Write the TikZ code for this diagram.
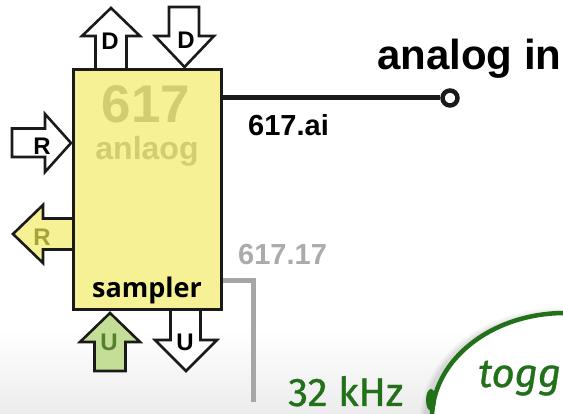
\documentclass[tikz,border=0pt]{standalone}
\usepackage{fontspec}
\setmainfont{Liberation Sans}
\newfontfamily\samplerfont{Open Sans}
\newfontfamily\comicfont[FakeBold=0.8]{Fira Sans}
\definecolor{boxyellow}{HTML}{F7F196}
\definecolor{ghost}{HTML}{D3CC70}
\definecolor{olivetext}{HTML}{A3A33A}
\definecolor{leaf}{HTML}{C4DE98}
\definecolor{leafdark}{HTML}{557F2A}
\definecolor{wire}{HTML}{1A1A1A}
\definecolor{graywire}{HTML}{A6A6A6}
\definecolor{graytext}{HTML}{ABABAB}
\definecolor{note}{HTML}{23701A}
\definecolor{bggray}{HTML}{ECECEC}
\begin{document}
\begin{tikzpicture}[x=1pt,y=-1pt,
  blockarrow/.style={draw=wire, line width=2.6pt, line join=miter, fill=white},
  arrowlbl/.style={font=\fontsize{24}{24}\selectfont\bfseries, inner sep=0pt},
  blocktitle/.style={font=\fontsize{53}{53}\selectfont\bfseries, text=ghost, inner sep=0pt, anchor=base},
  blocksub/.style={font=\fontsize{32}{32}\selectfont\bfseries, text=ghost, inner sep=0pt, anchor=base},
  signal/.style={font=\fontsize{29}{29}\selectfont\bfseries, inner sep=0pt, anchor=base west},
  notetext/.style={font=\comicfont\fontsize{40}{40}\selectfont, text=note, inner sep=0pt, anchor=base west}]
\useasboundingbox (0,0) rectangle (563,414);
\begin{scope}
\clip (0,0) rectangle (563,414);
% background gradient
\shade[top color=white, bottom color=bggray] (0,330) rectangle (563,414);
% top arrows
\draw[blockarrow] (95.5,70) -- (95.5,36) -- (82,36) -- (111,8) -- (140,36) -- (126.5,36) -- (126.5,70);
\node[arrowlbl] (d1) at (110,41) {D};
\draw[blockarrow] (169,7) -- (199,7) -- (199,36) -- (214,36) -- (184.5,67) -- (155,36) -- (169,36) -- cycle;
\node[arrowlbl] (d2) at (186,40) {D};
% left arrows
\draw[blockarrow] (12,128.5) -- (45,128.5) -- (45,114) -- (71,143) -- (45,172) -- (45,157) -- (12,157) -- cycle;
\node[arrowlbl] (r1) at (42,146) {R};
\draw[blockarrow, fill=boxyellow] (74,218.5) -- (43,218.5) -- (43,205) -- (13,234) -- (43,263) -- (43,249.5) -- (74,249.5);
\node[arrowlbl, text=olivetext] (r2) at (42,237) {R};
% bottom arrows
\draw[blockarrow, fill=leaf] (94.5,371) -- (94.5,342) -- (80,342) -- (110,313) -- (140,342) -- (125.5,342) -- (125.5,371) -- cycle;
\node[arrowlbl, text=leafdark] (u1) at (109,342) {U};
\draw[blockarrow] (170.5,309) -- (170.5,340) -- (155,340) -- (186,371) -- (217,340) -- (200.5,340) -- (200.5,309);
\node[arrowlbl] (u2) at (185,342) {U};
% block
\node[draw=wire, line width=3pt, fill=boxyellow, minimum width=148pt, minimum height=240pt, inner sep=0pt] (box) at (147.5,189.5) {};
\node[blocktitle] (t617) at (146,123) {617};
\node[blocksub] (tan) at (147,160) {anlaog};
\node[font=\samplerfont\fontsize{27}{27}\selectfont\bfseries, inner sep=0pt, anchor=base] (samp) at (147,298) {sampler};
% analog input
\node[draw=wire, line width=4.5pt, circle, minimum size=15pt, inner sep=0pt, fill=white] (ain) at (450,98) {};
\draw[wire, line width=5pt] (ain.west -| box.east) -- (ain.west);
\node[font=\fontsize{42}{42}\selectfont\bfseries, inner sep=0pt, anchor=base west] (ainlbl) at (377,70) {analog in};
\node[signal] (sai) at (248,136) {617.ai};
% clock output
\coordinate (gcorner) at (253,281);
\coordinate (gend) at (253,402);
\draw[graywire, line width=5pt] (gcorner -| box.east) -- (gcorner) -- (gend);
\node[signal, text=graytext] (s17) at (238,265) {617.17};
% note
\node[notetext] (khz) at (288,406) {32 kHz};
\foreach \s/\o in {7/0.03,5/0.04,3/0.05}{
  \fill[black, opacity=\o] (560,420) ellipse [x radius=133pt+\s pt, y radius=105pt+\s pt];
}
\draw[note, line width=4.5pt, fill=white] (565,418) ellipse [x radius=133pt, y radius=105pt];
\fill[note] (431,400) ellipse [x radius=5pt, y radius=11pt];
\node[notetext, font=\comicfont\itshape\fontsize{40}{40}\selectfont] (tog) at (478,387) {toggle};
\end{scope}
\end{tikzpicture}
\end{document}
